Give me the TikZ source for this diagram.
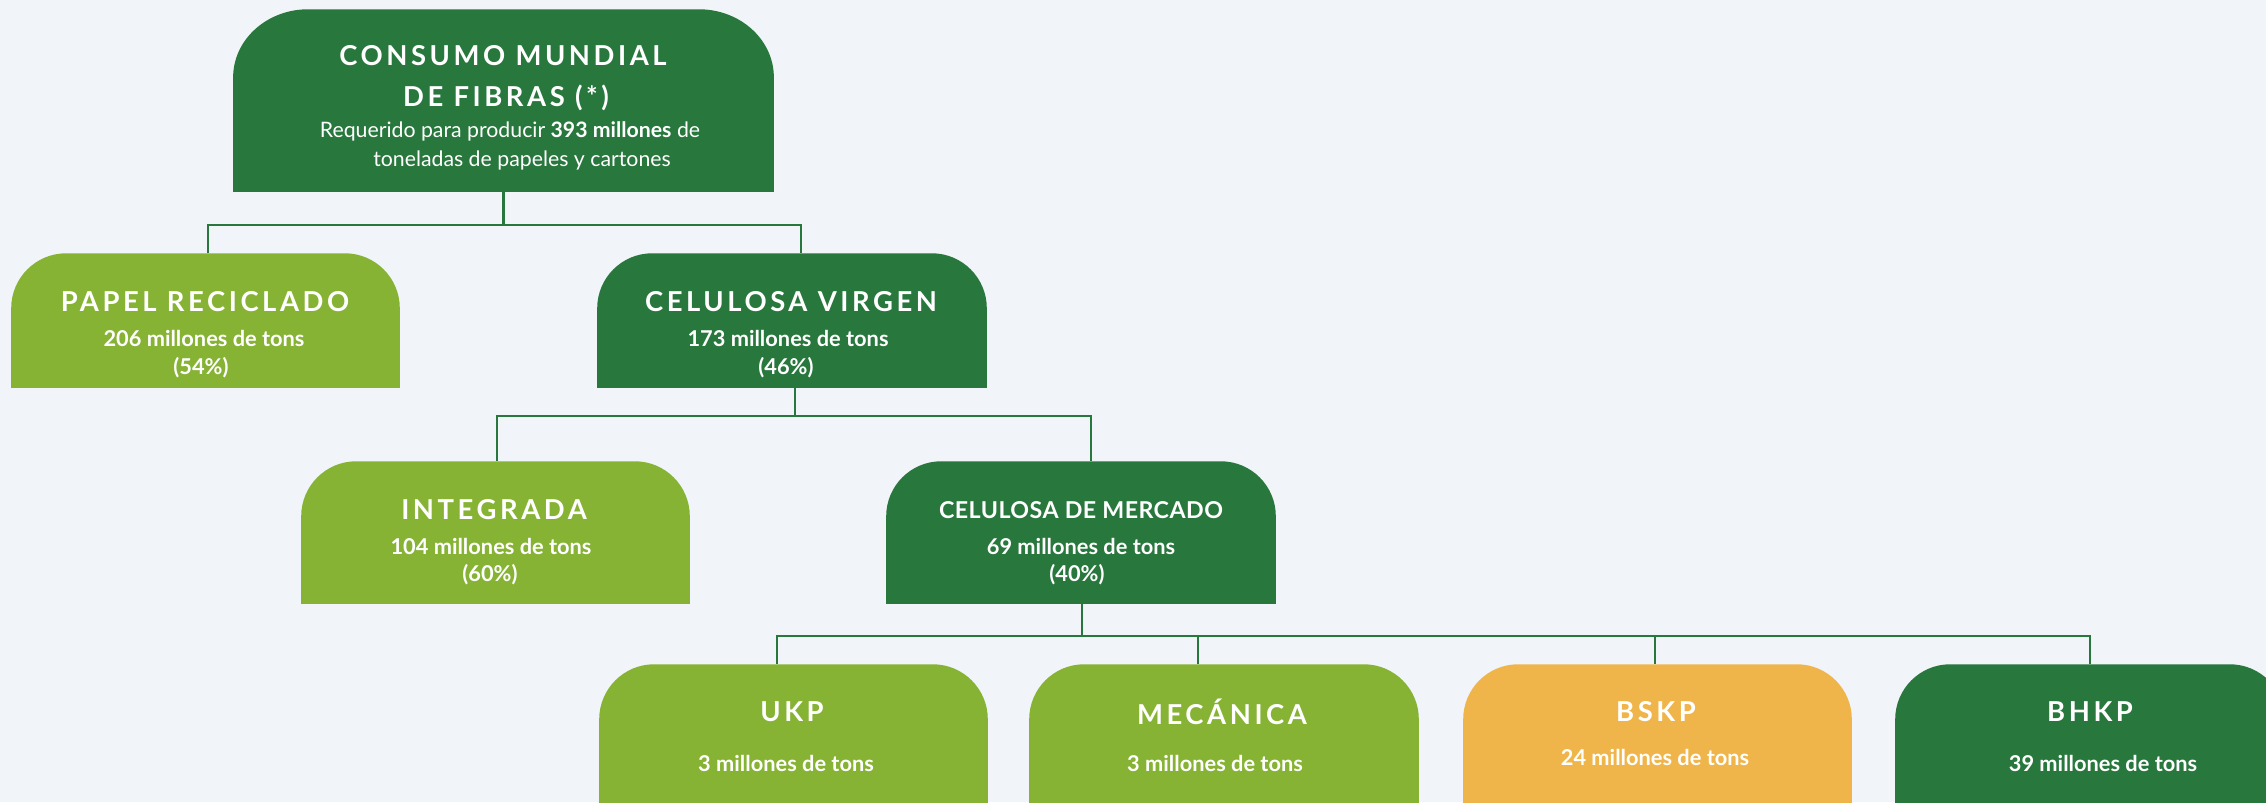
\documentclass[tikz,border=0pt]{standalone}
\usepackage{fontspec}
\setmainfont{Lato}
\newfontfamily\titlefont{Lato}[LetterSpace=13]
\newfontfamily\subtitlefont{Lato}[LetterSpace=2]
\definecolor{dgreen}{HTML}{28773D}
\definecolor{lgreen}{HTML}{86B334}
\definecolor{orng}{HTML}{F0B54A}
\definecolor{bgc}{HTML}{F1F5F9}
\newcommand\upbox[4]{\fill[#2] (#1.south west) -- ([yshift=-#4]#1.north west) arc[start angle=180,end angle=90,x radius=#3,y radius=#4] -- ([xshift=-#3]#1.north east) arc[start angle=90,end angle=0,x radius=#3,y radius=#4] -- (#1.south east) -- cycle;}
\tikzset{
  boxn/.style={inner sep=0pt, draw=none, minimum width=#1},
  ttl/.style={text=white, font=\titlefont\bfseries\fontsize{7.8}{9}\selectfont, inner sep=0pt},
  ttlsmall/.style={text=white, font=\subtitlefont\bfseries\fontsize{6.6}{8}\selectfont, inner sep=0pt},
  val/.style={text=white, font=\bfseries\fontsize{6.2}{7}\selectfont, inner sep=0pt},
  body/.style={text=white, font=\fontsize{6.05}{7}\selectfont, inner sep=0pt},
  conn/.style={draw=dgreen, line width=0.65pt}
}
\begin{document}
\begin{tikzpicture}[x=0.01cm,y=0.01cm]
\clip (0,-802) rectangle (2266,0);
\fill[bgc] (0,-802) rectangle (2266,0);
% box nodes
\node[boxn=5.39cm, minimum height=1.81cm] (top) at (503.5,-100.5) {};
\node[boxn=3.87cm, minimum height=1.33cm] (pr) at (205.5,-320.5) {};
\node[boxn=3.88cm, minimum height=1.33cm] (cv) at (792,-320.5) {};
\node[boxn=3.87cm, minimum height=1.41cm] (in) at (495.5,-532.5) {};
\node[boxn=3.88cm, minimum height=1.41cm] (cm) at (1081,-532.5) {};
\node[boxn=3.87cm, minimum height=1.55cm] (ukp) at (793.5,-742.5) {};
\node[boxn=3.88cm, minimum height=1.55cm] (mec) at (1224,-742.5) {};
\node[boxn=3.87cm, minimum height=1.55cm] (bskp) at (1657.5,-742.5) {};
\node[boxn=3.88cm, minimum height=1.55cm] (bhkp) at (2090,-742.5) {};
% shapes
\upbox{top}{dgreen}{0.75cm}{0.68cm}
\upbox{pr}{lgreen}{0.55cm}{0.55cm}
\upbox{cv}{dgreen}{0.55cm}{0.55cm}
\upbox{in}{lgreen}{0.55cm}{0.55cm}
\upbox{cm}{dgreen}{0.55cm}{0.55cm}
\upbox{ukp}{lgreen}{0.55cm}{0.55cm}
\upbox{mec}{lgreen}{0.55cm}{0.55cm}
\upbox{bskp}{orng}{0.55cm}{0.55cm}
\upbox{bhkp}{dgreen}{0.55cm}{0.55cm}
% connectors
\coordinate (b1) at (0,-225);
\coordinate (b2) at (0,-416);
\coordinate (b3) at (0,-636);
\coordinate (pr-t) at ([xshift=0.025cm]pr.north);
\coordinate (cv-t) at ([xshift=0.09cm]cv.north);
\coordinate (cv-b) at ([xshift=0.03cm]cv.south);
\coordinate (in-t) at ([xshift=0.015cm]in.north);
\coordinate (cm-t) at ([xshift=0.10cm]cm.north);
\coordinate (cm-b) at ([xshift=0.01cm]cm.south);
\coordinate (ukp-t) at ([xshift=-0.165cm]ukp.north);
\coordinate (mec-t) at ([xshift=-0.26cm]mec.north);
\coordinate (bskp-t) at ([xshift=-0.025cm]bskp.north);
\coordinate (bhkp-t) at (bhkp.north);
\draw[conn] (top.south) -- (top.south |- b1);
\draw[conn] (pr-t) -- (pr-t |- b1) -- (cv-t |- b1) -- (cv-t);
\draw[conn] (cv-b) -- (cv-b |- b2);
\draw[conn] (in-t) -- (in-t |- b2) -- (cm-t |- b2) -- (cm-t);
\draw[conn] (cm-b) -- (cm-b |- b3);
\draw[conn] (ukp-t) -- (ukp-t |- b3) -- (bhkp-t |- b3) -- (bhkp-t);
\draw[conn] (mec-t |- b3) -- (mec-t);
\draw[conn] (bskp-t |- b3) -- (bskp-t);
% texts
\node[ttl] (top-t1) at (503,-56) {CONSUMO MUNDIAL};
\node[ttl] (top-t2) at (506,-98) {DE FIBRAS (*)};
\node[body] (top-t3) at (510,-131) {Requerido para producir \textbf{393 millones} de};
\node[body] (top-t4) at (522,-160) {toneladas de papeles y cartones};
\node[ttl] (pr-t1) at (205,-302) {PAPEL RECICLADO};
\node[val] (pr-t2) at (204,-338) {206 millones de tons};
\node[val] (pr-t3) at (201,-368) {(54\%)};
\node[ttl] (cv-t1) at (791,-302) {CELULOSA VIRGEN};
\node[val] (cv-t2) at (788,-338) {173 millones de tons};
\node[val] (cv-t3) at (786,-368) {(46\%)};
\node[ttl] (in-t1) at (494,-510) {INTEGRADA};
\node[val] (in-t2) at (491,-546) {104 millones de tons};
\node[val] (in-t3) at (490,-575) {(60\%)};
\node[ttlsmall] (cm-t1) at (1081,-510) {CELULOSA DE MERCADO};
\node[val] (cm-t2) at (1081,-546) {69 millones de tons};
\node[val] (cm-t3) at (1077,-575) {(40\%)};
\node[ttl] (ukp-t1) at (792,-712) {UKP};
\node[val] (ukp-t2) at (786,-763) {3 millones de tons};
\node[ttl] (mec-t1) at (1222,-712) {MECÁNICA};
\node[val] (mec-t2) at (1215,-763) {3 millones de tons};
\node[ttl] (bskp-t1) at (1656,-712) {BSKP};
\node[val] (bskp-t2) at (1655,-757) {24 millones de tons};
\node[ttl] (bhkp-t1) at (2090,-712) {BHKP};
\node[val] (bhkp-t2) at (2103,-763) {39 millones de tons};
\end{tikzpicture}
\end{document}
